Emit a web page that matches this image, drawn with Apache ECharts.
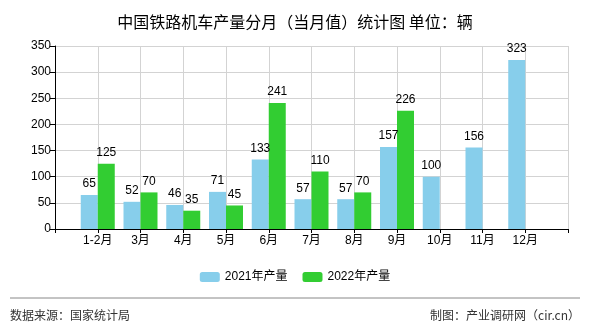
<!DOCTYPE html>
<html>
<head>
<meta charset="utf-8">
<script src="https://cdn.jsdelivr.net/npm/echarts@6/dist/echarts.min.js"></script>
<style>html,body{margin:0;padding:0;background:#fff}#c{width:590px;height:330px}</style>
</head>
<body>
<div id="c"></div>
<script>
var categories = ['', '1-2月', '3月', '4月', '5月', '6月', '7月', '8月', '9月', '10月', '11月', '12月', ''];
var values2021 = ['-', 65, 52, 46, 71, 133, 57, 57, 157, 100, 156, 323, '-'];
var values2022 = ['-', 125, 70, 35, 45, 241, 110, 70, 226, '-', '-', '-', '-'];
var seriesNames = ['2021年产量', '2022年产量'];
var yTicks = {min: 0, max: 350, interval: 50};

var FONT = 'Liberation Sans, Arial, "Noto Sans CJK SC", sans-serif';
var chart = echarts.init(document.getElementById('c'), null, {renderer: 'canvas'});
var labelStyle = {show: true, position: 'top', color: '#000', fontSize: 12, fontFamily: FONT, distance: 5};
chart.setOption({
  animation: false,
  backgroundColor: '#fff',
  title: {
    text: '中国铁路机车产量分月（当月值）统计图 单位：辆',
    left: 'center', top: 9,
    textStyle: {fontSize: 16, fontWeight: 'normal', color: '#000', fontFamily: '"Noto Sans CJK SC", sans-serif'}
  },
  legend: {
    data: seriesNames,
    bottom: 42, left: 'center',
    itemWidth: 20, itemHeight: 10, itemGap: 15,
    textStyle: {fontSize: 12, color: '#000', fontFamily: FONT}
  },
  grid: {left: 55, right: 22, top: 46, bottom: 101, containLabel: false},
  xAxis: {
    type: 'category', data: categories, boundaryGap: false,
    axisLine: {lineStyle: {color: '#000', width: 1}},
    axisTick: {show: true, length: 4, lineStyle: {color: '#000'}},
    axisLabel: {interval: 0, color: '#000', fontSize: 12, fontFamily: FONT, margin: 6},
    splitLine: {show: true, lineStyle: {color: '#d3d3d3'}}
  },
  yAxis: {
    type: 'value', min: yTicks.min, max: yTicks.max, interval: yTicks.interval,
    axisLine: {show: true, lineStyle: {color: '#000', width: 1}},
    axisTick: {show: true, length: 5, lineStyle: {color: '#000'}},
    axisLabel: {color: '#000', fontSize: 12, fontFamily: FONT, margin: 4},
    splitLine: {show: true, lineStyle: {color: '#d3d3d3'}}
  },
  series: [
    {name: seriesNames[0], type: 'bar', data: values2021, barWidth: 17, barGap: '0%',
     itemStyle: {color: '#87ceeb'}, label: labelStyle},
    {name: seriesNames[1], type: 'bar', data: values2022, barWidth: 17, barGap: '0%',
     itemStyle: {color: '#32cd32'}, label: labelStyle}
  ],
  graphic: [
    {type: 'line', shape: {x1: 10, y1: 298, x2: 580, y2: 298}, style: {stroke: '#888', lineWidth: 1}},
    {type: 'text', left: 10, top: 309, style: {text: '数据来源：国家统计局', fontSize: 12, fill: '#333', fontFamily: '"Noto Sans CJK SC", sans-serif'}},
    {type: 'text', right: 10, top: 309, style: {text: '制图：产业调研网（cir.cn）', fontSize: 12, fill: '#333', fontFamily: '"Noto Sans CJK SC", sans-serif'}}
  ]
});
</script>
</body>
</html>
